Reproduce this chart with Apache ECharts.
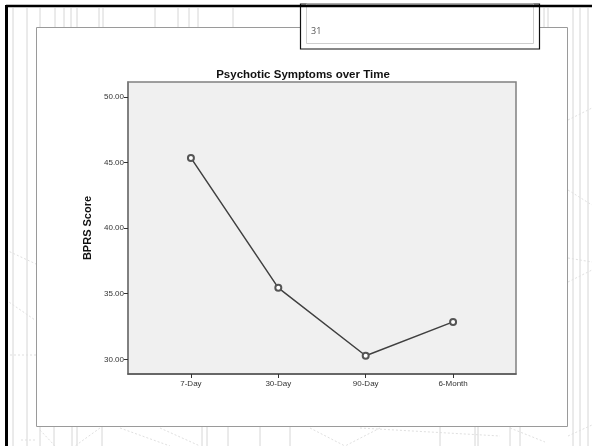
<!DOCTYPE html>
<html>
<head>
<meta charset="utf-8">
<script src="https://cdn.jsdelivr.net/npm/echarts@6/dist/echarts.min.js"></script>
<style>
html,body{margin:0;padding:0;background:#fff;}
#chart{width:592px;height:446px;}
</style>
</head>
<body>
<div id="chart"></div>
<script>
var categories = ['7-Day', '30-Day', '90-Day', '6-Month'];
var bprsScores = [45.35, 35.45, 30.27, 32.85];
var yTicks = [30, 35, 40, 45, 50];
var chartTitle = 'Psychotic Symptoms over Time';
var yAxisName = 'BPRS Score';
var pageNumber = '31';

var faint = '#d6d6d6';
function vline(x, y1, y2, dashed) {
  return { type: 'line', silent: true, z: 0,
    shape: { x1: x, y1: y1, x2: x, y2: y2 },
    style: { stroke: faint, lineWidth: 1, lineDash: dashed ? [2, 2] : null } };
}
function seg(x1, y1, x2, y2) {
  return { type: 'line', silent: true, z: 0,
    shape: { x1: x1, y1: y1, x2: x2, y2: y2 },
    style: { stroke: '#e0e0e0', lineWidth: 1, lineDash: [2, 2] } };
}

var bg = [];
[13, 27, 40, 55, 64, 71, 77, 99, 103, 155, 178, 189, 198, 233].forEach(function (x) { bg.push(vline(x, 8, 27)); });
[13, 27].forEach(function (x) { bg.push(vline(x, 27, 446)); });
[40, 54, 72, 77, 102, 202, 207, 228, 260, 290, 440, 475, 478, 510, 520].forEach(function (x) { bg.push(vline(x, 427, 446)); });
[573, 580, 588].forEach(function (x) { bg.push(vline(x, 8, 446)); });
[544, 548].forEach(function (x) { bg.push(vline(x, 8, 27)); });
bg.push(seg(35, 440, 20, 440));
bg.push(seg(40, 430, 55, 446));
bg.push(seg(100, 428, 75, 446));
bg.push(seg(120, 428, 170, 446));
bg.push(seg(160, 428, 200, 446));
bg.push(seg(310, 428, 345, 446));
bg.push(seg(380, 428, 345, 446));
bg.push(seg(360, 428, 500, 436));
bg.push(seg(510, 428, 545, 442));
bg.push(seg(568, 120, 592, 108));
bg.push(seg(568, 190, 592, 205));
bg.push(seg(568, 258, 592, 262));
bg.push(seg(568, 282, 592, 270));
bg.push(seg(568, 436, 592, 425));
bg.push(seg(6, 300, 35, 320));
bg.push(seg(6, 250, 36, 264));
bg.push(seg(10, 355, 36, 355));

var graphics = bg.concat([
  { type: 'rect', silent: true, z: 1,
    shape: { x: 36.5, y: 27.5, width: 531, height: 399 },
    style: { fill: '#ffffff', stroke: '#9a9a9a', lineWidth: 1 } },
  { type: 'rect', silent: true, z: 2,
    shape: { x: 300.5, y: 4, width: 239, height: 45 },
    style: { fill: '#ffffff', stroke: '#111111', lineWidth: 1.2 } },
  { type: 'rect', silent: true, z: 3,
    shape: { x: 306.5, y: 4, width: 227, height: 39.5 },
    style: { fill: 'none', stroke: '#cfcfcf', lineWidth: 1 } },
  { type: 'text', silent: true, z: 4, left: 311, top: 27,
    style: { text: pageNumber, fill: '#555', font: '9px "Open Sans", "DejaVu Sans", sans-serif' } },
  { type: 'line', silent: true, z: 5,
    shape: { x1: 6, y1: 6, x2: 592, y2: 6 },
    style: { stroke: '#000', lineWidth: 2.5 } },
  { type: 'line', silent: true, z: 5,
    shape: { x1: 6.5, y1: 5, x2: 6.5, y2: 446 },
    style: { stroke: '#000', lineWidth: 3 } }
]);

var chart = echarts.init(document.getElementById('chart'), null, { renderer: 'canvas' });
chart.setOption({
  backgroundColor: '#ffffff',
  animation: false,
  graphic: graphics,
  title: {
    text: chartTitle,
    left: 298, top: 64, textAlign: 'center', z: 20,
    textStyle: { fontFamily: '"Liberation Sans", Arial, sans-serif', fontWeight: 'bold', fontSize: 11.5, color: '#111' }
  },
  grid: {
    left: 128, top: 82, right: 76, bottom: 72,
    show: true, backgroundColor: '#f0f0f0', borderColor: '#808080', borderWidth: 1.5, z: 8
  },
  xAxis: {
    type: 'value',
    z: 10,
    min: -0.72, max: 3.72,
    splitLine: { show: false },
    axisLine: { show: true, onZero: false, lineStyle: { color: '#555', width: 1.5 } },
    axisTick: { show: true, customValues: [0, 1, 2, 3], length: 4, inside: false, lineStyle: { color: '#333' } },
    axisLabel: {
      customValues: [0, 1, 2, 3],
      formatter: function (v) { return categories[Math.round(v)]; },
      fontFamily: '"Liberation Sans", Arial, sans-serif', fontSize: 8, color: '#333', margin: 6
    }
  },
  yAxis: {
    type: 'value',
    z: 10,
    min: 28.88, max: 51.14,
    name: yAxisName,
    nameLocation: 'middle',
    nameGap: 24,
    nameTextStyle: { fontFamily: '"Liberation Sans", Arial, sans-serif', fontWeight: 'bold', fontSize: 11, color: '#111' },
    splitLine: { show: false },
    axisLine: { show: true, onZero: false, lineStyle: { color: '#777', width: 1.5 } },
    axisTick: { show: true, customValues: yTicks, length: 4, lineStyle: { color: '#333' } },
    axisLabel: {
      customValues: yTicks,
      formatter: function (v) { return v.toFixed(2); },
      fontFamily: '"Liberation Sans", Arial, sans-serif', fontSize: 8, color: '#333', margin: 4
    }
  },
  series: [{
    type: 'line',
    data: bprsScores.map(function (v, i) { return [i, v]; }),
    symbol: 'emptyCircle',
    symbolSize: 6,
    lineStyle: { color: '#404040', width: 1.5 },
    itemStyle: { color: '#555', borderColor: '#555', borderWidth: 1 },
    z: 12
  }]
});
</script>
</body>
</html>
